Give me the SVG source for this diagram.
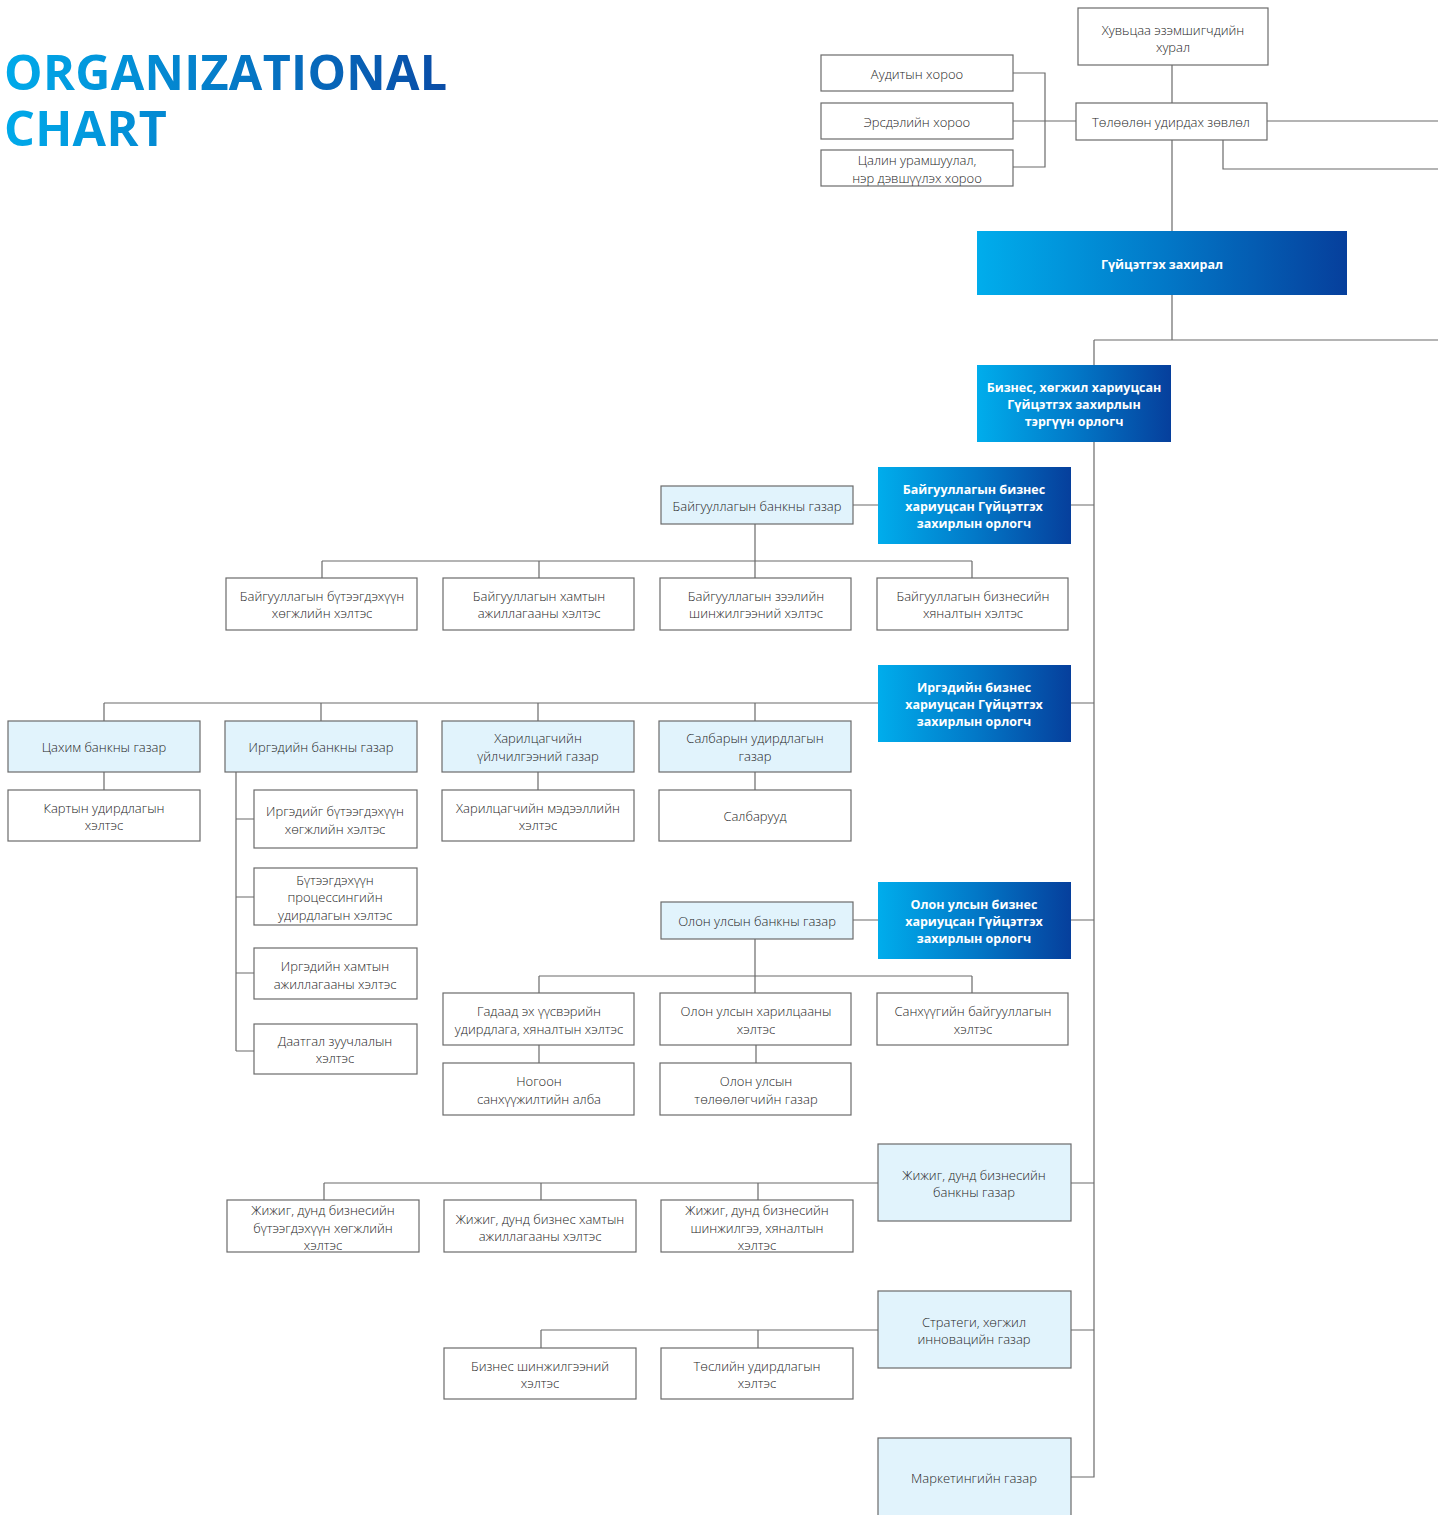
<svg xmlns="http://www.w3.org/2000/svg" width="1438" height="1515" viewBox="0 0 1438 1515">
<defs>
<linearGradient id="gTitle" gradientUnits="userSpaceOnUse" x1="5" y1="0" x2="450" y2="0">
<stop offset="0" stop-color="#00aaea"/><stop offset="1" stop-color="#0a4ca6"/>
</linearGradient>
<linearGradient id="gBox" x1="0" y1="0" x2="1" y2="0">
<stop offset="0" stop-color="#00adec"/><stop offset="0.5" stop-color="#0279c8"/><stop offset="1" stop-color="#063f9c"/>
</linearGradient>
<style>
.w{fill:#ffffff;stroke:#6b6b6b;stroke-width:1.2}
.l{fill:#e1f3fc;stroke:#6b6b6b;stroke-width:1.2}
.g{fill:url(#gBox)}
.t{font-family:"Open Sans","Liberation Sans",sans-serif;font-size:13px;font-weight:300;fill:#262626;text-anchor:middle}
.b{font-family:"Open Sans","Liberation Sans",sans-serif;font-size:12.5px;font-weight:700;fill:#fff;text-anchor:middle}
.c{fill:none;stroke:#6b6b6b;stroke-width:1.2}
.title{font-family:"Open Sans","Noto Sans",sans-serif;font-size:48.5px;font-weight:700;fill:url(#gTitle)}
</style>
</defs>
<rect width="1438" height="1515" fill="#ffffff"/>
<g id="title">
<text class="title" x="4" y="90" letter-spacing="0.3">ORGANIZATIONAL</text>
<text class="title" x="4" y="146" letter-spacing="0.3">CHART</text>
</g>
<g id="connectors">
<path class="c" d="M1013,73H1045V167H1013M1013,121H1076M1172,65V103M1267,121H1438M1223,140V169H1438M1172,140V231M1172,295V340M1094,340H1438M1094,340V1477H1071"/>
<path class="c" d="M1071,505H1094M853,505H878M755,524V561M322,561H972M322,561V578M539,561V578M755,561V578M972,561V578"/>
<path class="c" d="M1071,703H1094M104,703H878M104,703V721M321,703V721M538,703V721M755,703V721M104,772V790M538,772V790M755,772V790"/>
<path class="c" d="M236,772V1051M236,819H254M236,897H254M236,973H254M236,1051H254"/>
<path class="c" d="M1071,920H1094M853,920H878M755,939V976M539,976H972M539,976V993M755,976V993M972,976V993M539,1045V1063M756,1045V1063"/>
<path class="c" d="M1071,1183H1094M324,1183H878M324,1183V1200M541,1183V1200M758,1183V1200"/>
<path class="c" d="M1071,1330H1094M541,1330H878M541,1330V1348M758,1330V1348"/>
</g>
<g id="n-shareholders"><rect class="w" x="1078" y="8" width="190" height="57"/><text class="t" x="1173" y="35">Хувьцаа эзэмшигчдийн</text><text class="t" x="1173" y="52">хурал</text></g>
<g id="n-audit"><rect class="w" x="821" y="55" width="192" height="36"/><text class="t" x="917" y="78.5">Аудитын хороо</text></g>
<g id="n-risk"><rect class="w" x="821" y="103" width="192" height="36"/><text class="t" x="917" y="126.5">Эрсдэлийн хороо</text></g>
<g id="n-remun"><rect class="w" x="821" y="150" width="192" height="36"/><text class="t" x="917" y="164.5">Цалин урамшуулал,</text><text class="t" x="917" y="182.5">нэр дэвшүүлэх хороо</text></g>
<g id="n-board"><rect class="w" x="1076" y="103" width="191" height="37"/><text class="t" x="1171" y="126.5">Төлөөлөн удирдах зөвлөл</text></g>
<g id="n-ceo"><rect class="g" x="977" y="231" width="370" height="64"/><text class="b" x="1162" y="268.5">Гүйцэтгэх захирал</text></g>
<g id="n-firstdep"><rect class="g" x="977" y="365" width="194" height="77"/><text class="b" x="1074" y="391.5">Бизнес, хөгжил хариуцсан</text><text class="b" x="1074" y="408.5">Гүйцэтгэх захирлын</text><text class="b" x="1074" y="425.5">тэргүүн орлогч</text></g>

<g id="n-corpdep"><rect class="g" x="878" y="467" width="193" height="77"/><text class="b" x="974" y="493.5">Байгууллагын бизнес</text><text class="b" x="974" y="510.5">хариуцсан Гүйцэтгэх</text><text class="b" x="974" y="527.5">захирлын орлогч</text></g>
<g id="n-corpbank"><rect class="l" x="661" y="486" width="192" height="38"/><text class="t" x="757" y="510.5">Байгууллагын банкны газар</text></g>
<g id="n-corp1"><rect class="w" x="226" y="578" width="191" height="52"/><text class="t" x="322" y="600.5">Байгууллагын бүтээгдэхүүн</text><text class="t" x="322" y="617.5">хөгжлийн хэлтэс</text></g>
<g id="n-corp2"><rect class="w" x="443" y="578" width="191" height="52"/><text class="t" x="539" y="600.5">Байгууллагын хамтын</text><text class="t" x="539" y="617.5">ажиллагааны хэлтэс</text></g>
<g id="n-corp3"><rect class="w" x="660" y="578" width="191" height="52"/><text class="t" x="756" y="600.5">Байгууллагын зээлийн</text><text class="t" x="756" y="617.5">шинжилгээний хэлтэс</text></g>
<g id="n-corp4"><rect class="w" x="877" y="578" width="191" height="52"/><text class="t" x="973" y="600.5">Байгууллагын бизнесийн</text><text class="t" x="973" y="617.5">хяналтын хэлтэс</text></g>

<g id="n-retdep"><rect class="g" x="878" y="665" width="193" height="77"/><text class="b" x="974" y="691.5">Иргэдийн бизнес</text><text class="b" x="974" y="708.5">хариуцсан Гүйцэтгэх</text><text class="b" x="974" y="725.5">захирлын орлогч</text></g>
<g id="n-digital"><rect class="l" x="8" y="721" width="192" height="51"/><text class="t" x="104" y="751.5">Цахим банкны газар</text></g>
<g id="n-retail"><rect class="l" x="225" y="721" width="192" height="51"/><text class="t" x="321" y="751.5">Иргэдийн банкны газар</text></g>
<g id="n-custsvc"><rect class="l" x="442" y="721" width="192" height="51"/><text class="t" x="538" y="742.5">Харилцагчийн</text><text class="t" x="538" y="760.5">үйлчилгээний газар</text></g>
<g id="n-branchmgmt"><rect class="l" x="659" y="721" width="192" height="51"/><text class="t" x="755" y="742.5">Салбарын удирдлагын</text><text class="t" x="755" y="760.5">газар</text></g>
<g id="n-card"><rect class="w" x="8" y="790" width="192" height="51"/><text class="t" x="104" y="812.5">Картын удирдлагын</text><text class="t" x="104" y="829.5">хэлтэс</text></g>
<g id="n-custinfo"><rect class="w" x="442" y="790" width="192" height="51"/><text class="t" x="538" y="812.5">Харилцагчийн мэдээллийн</text><text class="t" x="538" y="829.5">хэлтэс</text></g>
<g id="n-branches"><rect class="w" x="659" y="790" width="192" height="51"/><text class="t" x="755" y="820.5">Салбарууд</text></g>
<g id="n-ret1"><rect class="w" x="254" y="790" width="163" height="58"/><text class="t" x="335" y="815.5">Иргэдийг бүтээгдэхүүн</text><text class="t" x="335" y="833.5">хөгжлийн хэлтэс</text></g>
<g id="n-ret2"><rect class="w" x="254" y="868" width="163" height="57"/><text class="t" x="335" y="884.5">Бүтээгдэхүүн</text><text class="t" x="335" y="901.5">процессингийн</text><text class="t" x="335" y="919.5">удирдлагын хэлтэс</text></g>
<g id="n-ret3"><rect class="w" x="254" y="948" width="163" height="51"/><text class="t" x="335" y="970.5">Иргэдийн хамтын</text><text class="t" x="335" y="988.5">ажиллагааны хэлтэс</text></g>
<g id="n-ret4"><rect class="w" x="254" y="1024" width="163" height="50"/><text class="t" x="335" y="1045.5">Даатгал зуучлалын</text><text class="t" x="335" y="1062.5">хэлтэс</text></g>

<g id="n-intdep"><rect class="g" x="878" y="882" width="193" height="77"/><text class="b" x="974" y="908.5">Олон улсын бизнес</text><text class="b" x="974" y="925.5">хариуцсан Гүйцэтгэх</text><text class="b" x="974" y="942.5">захирлын орлогч</text></g>
<g id="n-intbank"><rect class="l" x="661" y="902" width="192" height="37"/><text class="t" x="757" y="925.5">Олон улсын банкны газар</text></g>
<g id="n-int1"><rect class="w" x="443" y="993" width="191" height="52"/><text class="t" x="539" y="1015.5">Гадаад эх үүсвэрийн</text><text class="t" x="539" y="1033.5">удирдлага, хяналтын хэлтэс</text></g>
<g id="n-int2"><rect class="w" x="660" y="993" width="191" height="52"/><text class="t" x="756" y="1015.5">Олон улсын харилцааны</text><text class="t" x="756" y="1033.5">хэлтэс</text></g>
<g id="n-int3"><rect class="w" x="877" y="993" width="191" height="52"/><text class="t" x="973" y="1015.5">Санхүүгийн байгууллагын</text><text class="t" x="973" y="1033.5">хэлтэс</text></g>
<g id="n-green"><rect class="w" x="443" y="1063" width="191" height="52"/><text class="t" x="539" y="1085.5">Ногоон</text><text class="t" x="539" y="1103.5">санхүүжилтийн алба</text></g>
<g id="n-intrep"><rect class="w" x="660" y="1063" width="191" height="52"/><text class="t" x="756" y="1085.5">Олон улсын</text><text class="t" x="756" y="1103.5">төлөөлөгчийн газар</text></g>

<g id="n-sme"><rect class="l" x="878" y="1144" width="193" height="77"/><text class="t" x="974" y="1179.5">Жижиг, дунд бизнесийн</text><text class="t" x="974" y="1196.5">банкны газар</text></g>
<g id="n-sme1"><rect class="w" x="227" y="1200" width="192" height="52"/><text class="t" x="323" y="1214.5">Жижиг, дунд бизнесийн</text><text class="t" x="323" y="1232.5">бүтээгдэхүүн хөгжлийн</text><text class="t" x="323" y="1249.5">хэлтэс</text></g>
<g id="n-sme2"><rect class="w" x="444" y="1200" width="192" height="52"/><text class="t" x="540" y="1223.5">Жижиг, дунд бизнес хамтын</text><text class="t" x="540" y="1240.5">ажиллагааны хэлтэс</text></g>
<g id="n-sme3"><rect class="w" x="661" y="1200" width="192" height="52"/><text class="t" x="757" y="1214.5">Жижиг, дунд бизнесийн</text><text class="t" x="757" y="1232.5">шинжилгээ, хяналтын</text><text class="t" x="757" y="1249.5">хэлтэс</text></g>

<g id="n-strategy"><rect class="l" x="878" y="1291" width="193" height="77"/><text class="t" x="974" y="1326.5">Стратеги, хөгжил</text><text class="t" x="974" y="1343.5">инновацийн газар</text></g>
<g id="n-bizanalysis"><rect class="w" x="444" y="1348" width="192" height="51"/><text class="t" x="540" y="1370.5">Бизнес шинжилгээний</text><text class="t" x="540" y="1387.5">хэлтэс</text></g>
<g id="n-project"><rect class="w" x="661" y="1348" width="192" height="51"/><text class="t" x="757" y="1370.5">Төслийн удирдлагын</text><text class="t" x="757" y="1387.5">хэлтэс</text></g>

<g id="n-marketing"><rect class="l" x="878" y="1438" width="193" height="80"/><text class="t" x="974" y="1482.5">Маркетингийн газар</text></g>
</svg>
